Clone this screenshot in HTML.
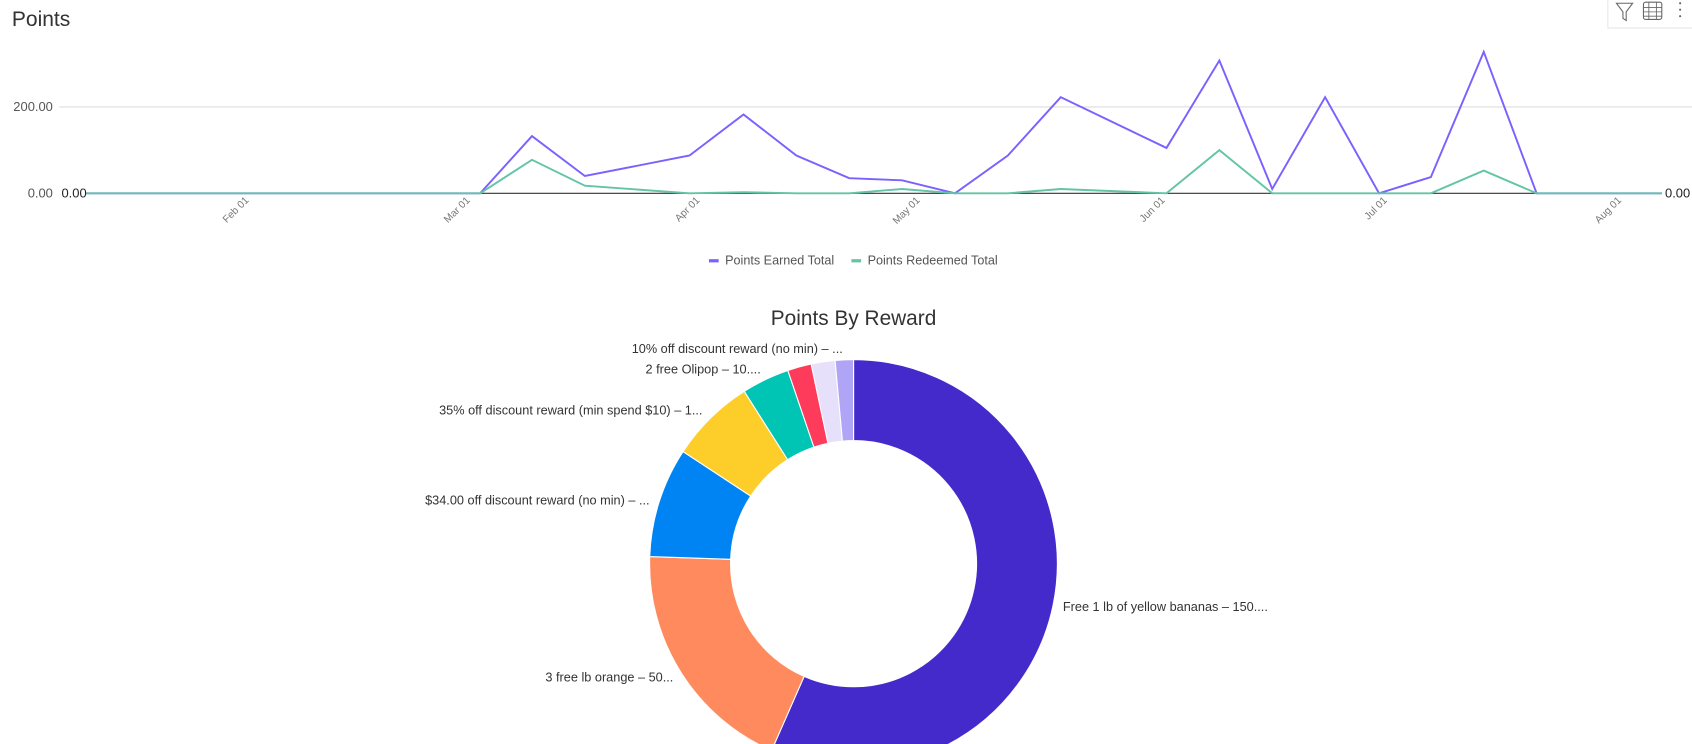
<!DOCTYPE html>
<html><head><meta charset="utf-8"><style>
html,body{margin:0;padding:0;background:#fff;overflow:hidden}
svg{display:block;font-family:"Liberation Sans",sans-serif}
</style></head><body>
<svg width="1692" height="744" viewBox="0 0 1568 689" preserveAspectRatio="none">
<text x="11" y="24" font-size="19.5" fill="#333">Points</text>
<g>
<rect x="1490" y="-2" width="80" height="28" fill="#fff" stroke="#e6e6e6"/>
<path d="M1498 3 L1513 3 L1507 11 L1507 19 L1504 17 L1504 11 Z" fill="none" stroke="#666" stroke-width="1"/>
<rect x="1523" y="2" width="17" height="16" rx="2" fill="none" stroke="#666"/>
<path d="M1528 2V18M1535 2V18M1523 7H1540M1523 11H1540M1523 15H1540" stroke="#666" stroke-width="0.8"/>
<circle cx="1557" cy="3" r="1" fill="#666"/><circle cx="1557" cy="9" r="1" fill="#666"/><circle cx="1557" cy="15" r="1" fill="#666"/>
</g>
<line x1="55" y1="99" x2="1568" y2="99" stroke="#ddd"/>
<text x="49" y="103" font-size="12" fill="#555" text-anchor="end">200.00</text>
<text x="49" y="183" font-size="12" fill="#555" text-anchor="end">0.00</text>
<line x1="80" y1="179" x2="1540" y2="179" stroke="#333"/>
<g font-size="9.5" fill="#777">
<text transform="translate(231,186) rotate(-45)" text-anchor="end">Feb 01</text>
<text transform="translate(436,186) rotate(-45)" text-anchor="end">Mar 01</text>
<text transform="translate(649,186) rotate(-45)" text-anchor="end">Apr 01</text>
<text transform="translate(853,186) rotate(-45)" text-anchor="end">May 01</text>
<text transform="translate(1080,186) rotate(-45)" text-anchor="end">Jun 01</text>
<text transform="translate(1286,186) rotate(-45)" text-anchor="end">Jul 01</text>
<text transform="translate(1503,186) rotate(-45)" text-anchor="end">Aug 01</text>
</g>
<polyline fill="none" stroke="#7B61FF" stroke-width="1.8" points="80,179 445,179 493,126 542,163 639,144 689,106 738,144 787,165 836,167 885,179 934,144 983,90 1081,137 1130,56 1179,175 1228,90 1278,179 1326,164 1375,48 1424,179 1540,179"/>
<polyline fill="none" stroke="#64C4A8" stroke-width="1.8" points="80,179 445,179 493,148 542,172 639,179 689,178 738,179 787,179 836,175 885,179 934,179 983,175 1081,179 1130,139 1179,179 1326,179 1375,158 1424,179 1540,179"/>
<text x="57" y="183" font-size="12" fill="#222">0.00</text>
<text x="1543" y="183" font-size="12" fill="#222">0.00</text>
<rect x="657" y="240" width="9" height="3" fill="#7B61FF"/>
<text x="672" y="245" font-size="11.7" fill="#555">Points Earned Total</text>
<rect x="789" y="240" width="9" height="3" fill="#64C4A8"/>
<text x="804" y="245" font-size="11.7" fill="#555">Points Redeemed Total</text>
<text x="791" y="301" font-size="19.3" fill="#333" text-anchor="middle">Points By Reward</text>
<g stroke="#fff" stroke-width="1">
<path d="M791,333 A189,189 0 1 1 715,695.1 L745.2,626.4 A114,114 0 1 0 791,408 Z" fill="#452ACB"/>
<path d="M715,695.1 A189,189 0 0 1 602.1,515.4 L677.1,518 A114,114 0 0 0 745.2,626.4 Z" fill="#FF8A5E"/>
<path d="M602.1,515.4 A189,189 0 0 1 633,418.2 L695.7,459.4 A114,114 0 0 0 677.1,518 Z" fill="#0084F4"/>
<path d="M633,418.2 A189,189 0 0 1 689.7,362.4 L729.9,425.7 A114,114 0 0 0 695.7,459.4 Z" fill="#FDCE2A"/>
<path d="M689.7,362.4 A189,189 0 0 1 730.1,343.1 L754.3,414.1 A114,114 0 0 0 729.9,425.7 Z" fill="#00C4B4"/>
<path d="M730.1,343.1 A189,189 0 0 1 751.7,337.1 L767.3,410.5 A114,114 0 0 0 754.3,414.1 Z" fill="#FF3B5C"/>
<path d="M751.7,337.1 A189,189 0 0 1 773.9,333.8 L780.7,408.5 A114,114 0 0 0 767.3,410.5 Z" fill="#E6E0FA"/>
<path d="M773.9,333.8 A189,189 0 0 1 791,333 L791,408 A114,114 0 0 0 780.7,408.5 Z" fill="#B0A4F7"/>
</g>
<g font-size="11.8" fill="#333">
<text x="781" y="327" text-anchor="end">10% off discount reward (no min) – ...</text>
<text x="705" y="346" text-anchor="end">2 free Olipop – 10....</text>
<text x="651" y="384" text-anchor="end">35% off discount reward (min spend $10) – 1...</text>
<text x="602" y="467" text-anchor="end">$34.00 off discount reward (no min) – ...</text>
<text x="624" y="631" text-anchor="end">3 free lb orange – 50...</text>
<text x="985" y="566">Free 1 lb of yellow bananas – 150....</text>
</g>
</svg>
</body></html>
